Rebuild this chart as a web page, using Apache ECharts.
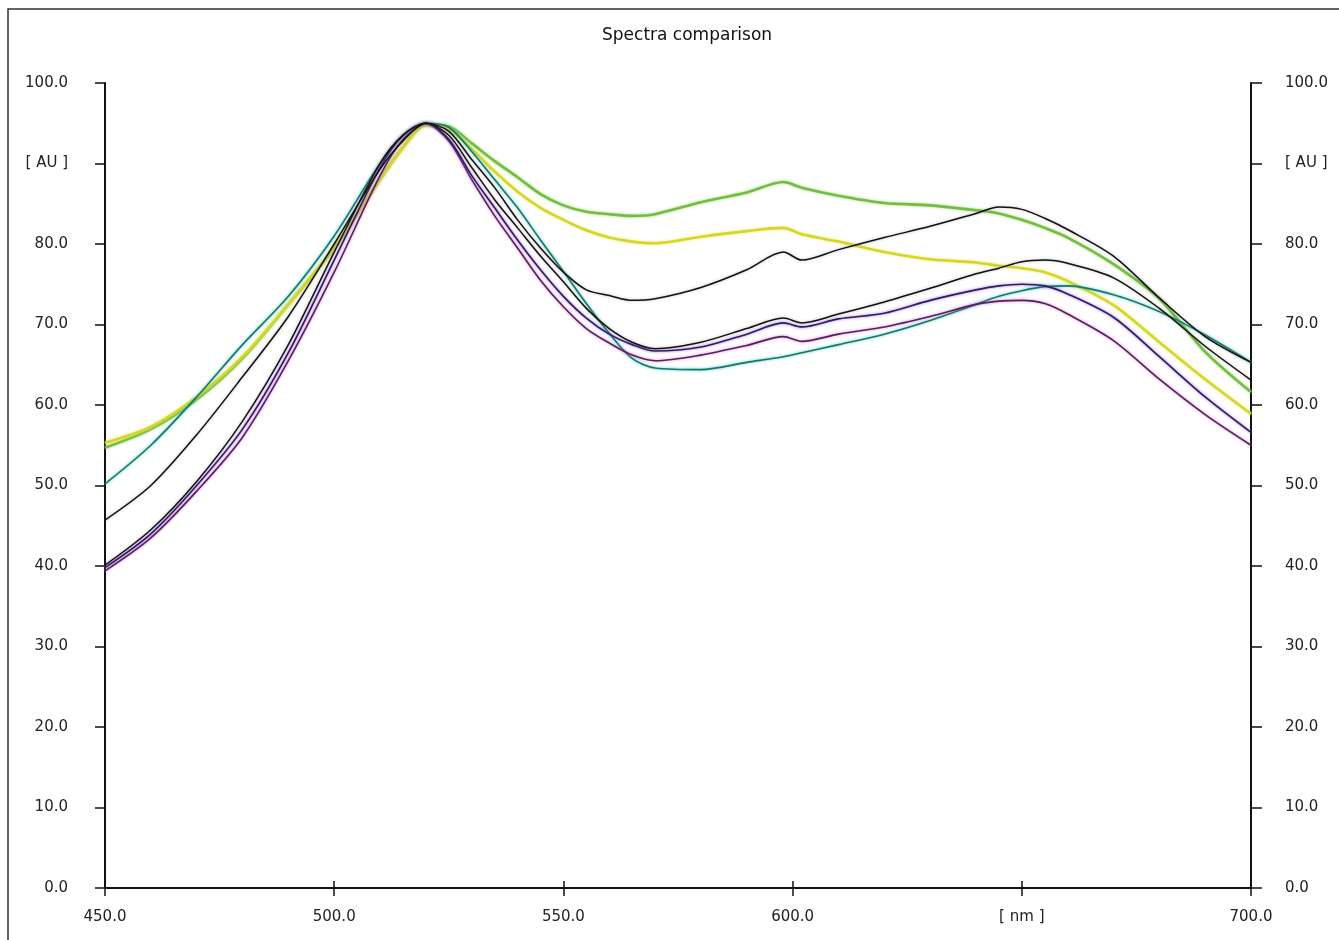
<!DOCTYPE html>
<html>
<head>
<meta charset="utf-8">
<script src="https://cdn.jsdelivr.net/npm/echarts@6/dist/echarts.min.js"></script>
<style>
html,body{margin:0;padding:0;background:#fff;}
#chart{width:1339px;height:940px;}
</style>
</head>
<body>
<div id="chart"></div>
<script>
// Wavelengths (nm)
const wavelengths = [450,460,470,480,490,500,510,515,520,525,530,535,540,545,550,555,560,565,570,580,590,598,602,610,620,630,640,645,650,655,660,670,680,690,700];

// Series values (AU)
const greenSpec  = [54.7,57.0,60.7,65.8,72.5,79.5,88.0,92.0,94.8,94.6,92.5,90.3,88.3,86.2,84.8,84.0,83.7,83.5,83.7,85.2,86.4,87.7,87.0,86.0,85.1,84.8,84.2,83.8,83.0,82.0,80.8,77.5,73.2,66.6,61.6];
const yellowSpec = [55.3,57.3,61.0,66.0,72.5,79.5,88.0,92.0,94.8,94.3,91.8,89.0,86.5,84.5,83.0,81.7,80.8,80.3,80.1,80.9,81.6,82.0,81.2,80.3,79.0,78.1,77.7,77.3,77.0,76.5,75.4,72.4,67.8,63.2,58.9];
const blackUpper = [45.7,50.0,56.3,63.5,71.0,80.0,89.3,92.8,95.0,94.0,90.5,87.0,83.0,79.5,76.5,74.3,73.6,73.0,73.2,74.6,76.8,79.0,78.0,79.3,80.8,82.2,83.8,84.6,84.3,83.2,81.8,78.5,73.3,68.5,65.3];
const tealSpec   = [50.2,55.0,61.0,67.5,73.5,81.0,90.0,93.5,95.0,94.5,91.5,88.0,84.5,80.5,76.6,72.6,68.9,65.8,64.6,64.4,65.3,66.0,66.5,67.5,68.8,70.5,72.5,73.5,74.2,74.7,74.8,73.7,71.6,68.7,65.3];
const blackLower = [40.1,44.5,50.5,58.0,67.5,79.0,90.0,93.5,95.0,93.5,89.5,85.5,82.0,78.5,75.3,72.0,69.5,67.8,67.0,67.8,69.5,70.8,70.2,71.3,72.8,74.5,76.3,77.0,77.8,78.0,77.6,75.8,72.0,67.3,63.1];
const darkPurple = [39.8,44.0,50.0,57.0,66.5,78.0,89.5,93.5,95.0,93.0,88.5,84.5,80.5,76.8,73.5,70.8,68.8,67.5,66.7,67.2,68.8,70.2,69.7,70.7,71.4,73.0,74.3,74.8,75.0,74.8,73.8,70.9,66.0,61.0,56.6];
const purpleSpec = [39.4,43.5,49.3,56.0,65.5,76.5,88.5,93.0,94.9,92.8,88.0,83.5,79.5,75.5,72.2,69.5,67.7,66.2,65.5,66.2,67.4,68.5,67.9,68.8,69.7,71.0,72.5,72.9,73.0,72.6,71.3,68.0,63.2,58.8,55.0];

// Tick labels
const xTickLabels = {450:'450.0',500:'500.0',550:'550.0',600:'600.0',650:'[ nm ]',700:'700.0'};
const yTickLabels = {0:'0.0',10:'10.0',20:'20.0',30:'30.0',40:'40.0',50:'50.0',60:'60.0',70:'70.0',80:'80.0',90:'[ AU ]',100:'100.0'};

const toPairs = arr => wavelengths.map((w,i)=>[w,arr[i]]);

const seriesDefs = [
  {name:'green', data:greenSpec, color:'#72be42', width:2.6, shadow:'rgba(150,210,90,0.8)'},
  {name:'yellow', data:yellowSpec, color:'#d6d62a', width:2.6, shadow:'rgba(230,230,80,0.8)'},
  {name:'teal', data:tealSpec, color:'#137a66', width:1.6, shadow:'rgba(60,190,200,0.9)'},
  {name:'purple', data:purpleSpec, color:'#55205f', width:1.6, shadow:'rgba(210,110,200,0.9)'},
  {name:'darkPurple', data:darkPurple, color:'#2e1a66', width:1.6, shadow:'rgba(150,90,210,0.9)'},
  {name:'blackLower', data:blackLower, color:'#111111', width:1.5, shadow:'rgba(120,120,120,0.5)'},
  {name:'blackUpper', data:blackUpper, color:'#111111', width:1.5, shadow:'rgba(120,120,120,0.5)'}
];

const labelFont = {fontFamily:'DejaVu Sans, sans-serif', fontSize:15, color:'#222'};

const chart = echarts.init(document.getElementById('chart'), null, {renderer:'canvas'});
chart.setOption({
  backgroundColor:'#ffffff',
  animation:false,
  title:{
    text:'Spectra comparison', left:597, top:22,
    textStyle:{fontFamily:'DejaVu Sans, sans-serif', fontSize:17, fontWeight:'normal', color:'#111'}
  },
  graphic:[{
    type:'polyline', silent:true,
    shape:{points:[[8,940],[8,9],[1339,9]]},
    style:{stroke:'#333', lineWidth:1.5, fill:null}
  }],
  grid:{left:105, right:88, top:83, bottom:52},
  xAxis:[{
    type:'value', position:'bottom', min:450, max:700, interval:50,
    axisLine:{show:true, lineStyle:{color:'#111', width:2}},
    axisTick:{show:true, inside:false, length:8, lineStyle:{color:'#111', width:1.5}},
    axisLabel:Object.assign({margin:22, formatter:v=>xTickLabels[v]||''}, labelFont),
    splitLine:{show:false}
  },{
    type:'value', position:'top', min:450, max:700, interval:50,
    axisLine:{show:true, lineStyle:{color:'#111', width:2}},
    axisTick:{show:true, inside:false, length:7, lineStyle:{color:'#111', width:1.5}},
    axisLabel:{show:false},
    splitLine:{show:false}
  }],
  yAxis:[{
    type:'value', position:'left', min:0, max:100, interval:10,
    axisLine:{show:true, lineStyle:{color:'#111', width:2}},
    axisTick:{show:true, inside:false, length:10, lineStyle:{color:'#111', width:1.5}},
    axisLabel:Object.assign({margin:37, align:'right', formatter:v=>yTickLabels[v]||''}, labelFont),
    splitLine:{show:false}
  },{
    type:'value', position:'right', min:0, max:100, interval:10,
    axisLine:{show:true, lineStyle:{color:'#111', width:2}},
    axisTick:{show:true, inside:false, length:11, lineStyle:{color:'#111', width:1.5}},
    axisLabel:Object.assign({margin:34, align:'left', formatter:v=>yTickLabels[v]||''}, labelFont),
    splitLine:{show:false}
  }],
  series: seriesDefs.map(s=>({
    name:s.name, type:'line', xAxisIndex:0, yAxisIndex:0,
    data:toPairs(s.data), showSymbol:false, smooth:0.3,
    lineStyle:{color:s.color, width:s.width, shadowColor:s.shadow, shadowBlur:3},
    itemStyle:{color:s.color}
  }))
});
</script>
</body>
</html>
